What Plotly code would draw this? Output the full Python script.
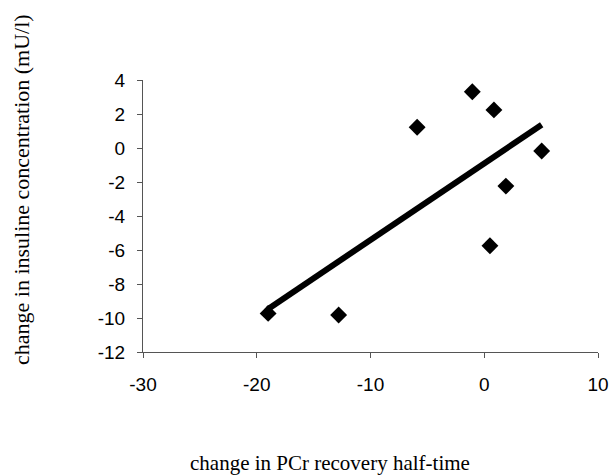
import numpy as np
import plotly.graph_objects as go

# Data
pcr_change = [-19.0, -12.8, -5.9, -1.05, 0.85, 5.05, 1.9, 0.5]
insulin_change = [-9.73, -9.82, 1.22, 3.31, 2.24, -0.18, -2.24, -5.75]
x_ticks = [-30, -20, -10, 0, 10]
y_ticks = [-12, -10, -8, -6, -4, -2, 0, 2, 4]
x_tick_labels = ["-30", "-20", "-10", "0", "10"]
y_tick_labels = ["-12", "-10", "-8", "-6", "-4", "-2", "0", "2", "4"]

x_title = "change in PCr recovery half-time"
y_title = "change in insuline concentration (mU/l)"

# Linear trend line fitted to the data
slope, intercept = np.polyfit(pcr_change, insulin_change, 1)
trend_x = [min(pcr_change), max(pcr_change)]
trend_y = [slope * v + intercept for v in trend_x]

fig = go.Figure()
fig.add_trace(go.Scatter(
    x=pcr_change, y=insulin_change, mode="markers",
    marker=dict(symbol="diamond", size=13, color="black"),
    showlegend=False, hoverinfo="skip", cliponaxis=False))
fig.add_trace(go.Scatter(
    x=trend_x, y=trend_y, mode="lines",
    line=dict(color="black", width=6),
    showlegend=False, hoverinfo="skip"))

axis_common = dict(
    showgrid=False, zeroline=False, showline=True, linecolor="#555555",
    linewidth=1, ticks="outside", ticklen=5, tickcolor="#555555",
    tickfont=dict(family="Liberation Sans, Arial", size=19, color="black"),
    automargin=False,
)
fig.update_xaxes(range=[-30, 10], tickvals=x_ticks, ticktext=x_tick_labels,
                 ticklabelstandoff=10, **axis_common)
fig.update_yaxes(range=[-12, 4], tickvals=y_ticks, ticktext=y_tick_labels,
                 ticklabelstandoff=8, **axis_common)

fig.add_annotation(text=x_title, xref="paper", yref="paper",
                   x=(330 - 143) / 455, y=-(463 - 352) / 272,
                   showarrow=False, xanchor="center", yanchor="middle",
                   font=dict(family="Liberation Serif, Times New Roman", size=21, color="black"))
fig.add_annotation(text=y_title, xref="paper", yref="paper",
                   x=-(143 - 21) / 455, y=(352 - 190) / 272,
                   showarrow=False, xanchor="center", yanchor="middle", textangle=-90,
                   font=dict(family="Liberation Serif, Times New Roman", size=22, color="black"))

fig.update_layout(
    width=612, height=476,
    margin=dict(l=143, r=14, t=80, b=124),
    paper_bgcolor="white", plot_bgcolor="white",
)
# remove the default page margin so the figure fills the window exactly
fig.write_html("out.html",
               config={"displayModeBar": False, "staticPlot": True},
               post_script="document.body.style.margin='0';document.body.style.overflow='hidden';")
